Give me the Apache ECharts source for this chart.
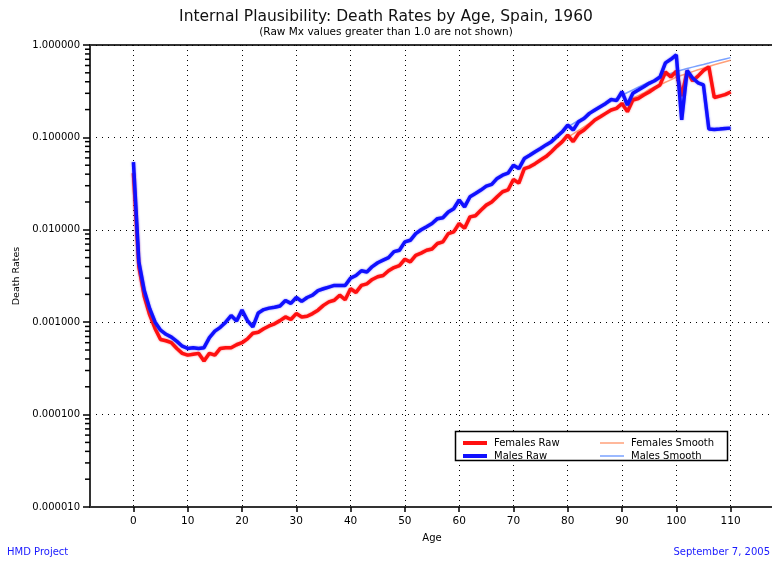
<!DOCTYPE html>
<html>
<head>
<meta charset="utf-8">
<script src="https://cdn.jsdelivr.net/npm/echarts@6/dist/echarts.min.js"></script>
<style>html,body{margin:0;padding:0;background:#fff;}#chart{width:772px;height:563px;}</style>
</head>
<body>
<div id="chart"></div>
<script>
// ---- data ----
const ages = [0,1,2,3,4,5,6,7,8,9,10,11,12,13,14,15,16,17,18,19,20,21,22,23,24,25,26,27,28,29,30,31,32,33,34,35,36,37,38,39,40,41,42,43,44,45,46,47,48,49,50,51,52,53,54,55,56,57,58,59,60,61,62,63,64,65,66,67,68,69,70,71,72,73,74,75,76,77,78,79,80,81,82,83,84,85,86,87,88,89,90,91,92,93,94,95,96,97,98,99,100,101,102,103,104,105,106,107,108,109,110];

const femalesRaw = [0.041,0.0040,0.0019,0.00120,0.00085,0.00065,0.00063,0.00060,0.00052,0.00046,
  0.00044,0.00045,0.00046,0.00038,0.00046,0.00044,0.00052,0.00053,0.00053,0.00057,
  0.00060,0.00066,0.00076,0.00078,0.00085,0.00091,0.00096,0.00104,0.00114,0.00107,
  0.00124,0.00114,0.00116,0.00124,0.00135,0.00152,0.00166,0.00173,0.00196,0.00175,
  0.0023,0.0021,0.0025,0.0026,0.0029,0.0031,0.0032,0.0036,0.0039,0.0041,
  0.0048,0.0045,0.0053,0.0056,0.0060,0.0062,0.0071,0.0074,0.0091,0.0095,
  0.0117,0.0104,0.0138,0.0142,0.0163,0.0185,0.0200,0.0228,0.0258,0.0270,
  0.035,0.032,0.046,0.048,0.052,0.057,0.062,0.070,0.080,0.090,
  0.106,0.090,0.110,0.120,0.136,0.154,0.167,0.182,0.198,0.206,
  0.233,0.190,0.254,0.264,0.287,0.310,0.340,0.370,0.510,0.450,
  0.520,0.280,0.520,0.410,0.460,0.530,0.580,0.270,0.280,0.290,0.310];

const malesRaw = [0.054,0.0045,0.0022,0.0014,0.0010,0.00082,0.00074,0.00069,0.00062,0.00055,
  0.00052,0.00053,0.00052,0.00053,0.00068,0.00080,0.00088,0.00100,0.00118,0.00103,
  0.00135,0.00104,0.00089,0.00126,0.00137,0.00142,0.00145,0.00150,0.00172,0.00160,
  0.00185,0.00168,0.00185,0.00196,0.0022,0.0023,0.0024,0.0025,0.0025,0.0025,
  0.0030,0.0032,0.0036,0.0035,0.0040,0.0044,0.0047,0.0050,0.0058,0.0060,
  0.0074,0.0077,0.0091,0.0100,0.0108,0.0117,0.0132,0.0135,0.0156,0.0169,
  0.0210,0.0177,0.0228,0.0247,0.0269,0.0297,0.031,0.036,0.039,0.041,
  0.050,0.046,0.059,0.064,0.070,0.076,0.083,0.090,0.102,0.115,
  0.136,0.120,0.148,0.160,0.182,0.198,0.215,0.233,0.258,0.250,
  0.312,0.224,0.300,0.325,0.353,0.385,0.410,0.450,0.640,0.700,
  0.780,0.155,0.530,0.440,0.390,0.370,0.123,0.122,0.123,0.125,0.126];

const smoothAges = [80,81,82,83,84,85,86,87,88,89,90,91,92,93,94,95,96,97,98,99,100,101,102,103,104,105,106,107,108,109,110];
const femalesSmooth = [0.100,0.109,0.119,0.130,0.142,0.155,0.168,0.182,0.197,0.213,
  0.230,0.247,0.265,0.283,0.302,0.330,0.350,0.370,0.395,0.420,
  0.450,0.470,0.490,0.515,0.540,0.560,0.585,0.610,0.635,0.660,0.685];
const malesSmooth = [0.130,0.141,0.153,0.166,0.180,0.195,0.211,0.228,0.246,0.265,
  0.285,0.306,0.327,0.349,0.372,0.395,0.419,0.443,0.467,0.491,
  0.515,0.536,0.556,0.576,0.596,0.616,0.638,0.661,0.684,0.707,0.730];

const xTicks = [0,10,20,30,40,50,60,70,80,90,100,110];
const yTicks = [0.00001,0.0001,0.001,0.01,0.1,1];
const yMinorTicks = [2e-5,3e-5,4e-5,5e-5,6e-5,7e-5,8e-5,9e-5,
  2e-4,3e-4,4e-4,5e-4,6e-4,7e-4,8e-4,9e-4,
  2e-3,3e-3,4e-3,5e-3,6e-3,7e-3,8e-3,9e-3,
  2e-2,3e-2,4e-2,5e-2,6e-2,7e-2,8e-2,9e-2,
  0.2,0.3,0.4,0.5,0.6,0.7,0.8,0.9];

const FONT = 'DejaVu Sans';
const pair = (xs, ys) => xs.map((x, i) => [x, ys[i]]);

const chart = echarts.init(document.getElementById('chart'), null, {renderer: 'canvas'});
chart.setOption({
  animation: false,
  backgroundColor: '#fff',
  title: [
    {text: 'Internal Plausibility: Death Rates by Age, Spain, 1960',
     subtext: '(Raw Mx values greater than 1.0 are not shown)',
     left: 'center', top: 4, itemGap: 2,
     textStyle: {fontFamily: FONT, fontSize: 15.5, fontWeight: 'normal', color: '#111'},
     subtextStyle: {fontFamily: FONT, fontSize: 10.5, color: '#000'}},
    {text: 'HMD Project', left: 7, top: 547, padding: 0,
     textStyle: {fontFamily: FONT, fontSize: 10, fontWeight: 'normal', color: '#1a1aff'}},
    {text: 'September 7, 2005', right: 2, top: 547, padding: 0,
     textStyle: {fontFamily: FONT, fontSize: 10, fontWeight: 'normal', color: '#1a1aff'}}
  ],
  grid: {left: 90, top: 45, width: 684, height: 462, show: true, outerBoundsMode: 'none',
         borderColor: '#333', borderWidth: 2, backgroundColor: 'transparent'},
  xAxis: {
    type: 'value', min: -8, max: 118,
    name: 'Age', nameLocation: 'middle', nameGap: 26,
    nameTextStyle: {fontFamily: FONT, fontSize: 10, color: '#000'},
    axisLine: {show: true, onZero: false, lineStyle: {color: '#333', width: 2}},
    axisTick: {show: true, customValues: xTicks, length: 5, lineStyle: {color: '#000', width: 1.5}},
    axisLabel: {customValues: xTicks, fontFamily: FONT, fontSize: 10.5, color: '#000', margin: 9},
    splitLine: {show: true, customValues: xTicks, lineStyle: {color: '#000', type: [1, 4], width: 1}}
  },
  yAxis: {
    type: 'log', logBase: 10, min: 0.00001, max: 1,
    name: 'Death Rates', nameLocation: 'middle', nameGap: 67, nameRotate: 90,
    nameTextStyle: {fontFamily: FONT, fontSize: 9.5, color: '#000'},
    axisLine: {show: true, onZero: false, lineStyle: {color: '#333', width: 2}},
    axisTick: {show: true, customValues: yTicks, length: 7, lineStyle: {color: '#000', width: 1.5}},
    axisLabel: {customValues: yTicks, fontFamily: FONT, fontSize: 10, color: '#000', margin: 10,
                formatter: v => Number(v).toFixed(6)},
    splitLine: {show: true, customValues: yTicks, lineStyle: {color: '#000', type: [1, 5], width: 1}},
    minorTick: {show: false}
  },
  legend: [
    {orient: 'vertical', left: 458, top: 433, itemGap: 3, itemWidth: 24, itemHeight: 4, icon: 'rect',
     data: ['Females Raw', 'Males Raw'], z: 10,
     textStyle: {fontFamily: FONT, fontSize: 10, color: '#000', padding: [0, 0, 0, 2]}},
    {orient: 'vertical', left: 595, top: 433, itemGap: 3, itemWidth: 24, itemHeight: 1.5, icon: 'rect',
     data: ['Females Smooth', 'Males Smooth'], z: 10,
     textStyle: {fontFamily: FONT, fontSize: 10, color: '#000', padding: [0, 0, 0, 2]}}
  ],
  graphic: [
    {type: 'rect', z: 8, shape: {x: 455.5, y: 431.5, width: 272, height: 29},
     style: {fill: '#fff', stroke: '#000', lineWidth: 1.5}}
  ],
  series: [
    {name: 'Females Smooth', type: 'line', data: pair(smoothAges, femalesSmooth), showSymbol: false,
     color: '#ffa07a', lineStyle: {width: 1.5}, z: 2},
    {name: 'Males Smooth', type: 'line', data: pair(smoothAges, malesSmooth), showSymbol: false,
     color: '#7aa2ff', lineStyle: {width: 1.5}, z: 2},
    {name: 'Females Raw', type: 'line', data: pair(ages, femalesRaw), showSymbol: false,
     color: '#ff1010', lineStyle: {width: 3.5, shadowBlur: 2, shadowColor: 'rgba(255,60,60,0.7)'}, z: 3},
    {name: 'Males Raw', type: 'line', data: pair(ages, malesRaw), showSymbol: false,
     color: '#1010ff', lineStyle: {width: 3.5, shadowBlur: 2, shadowColor: 'rgba(60,60,255,0.7)'}, z: 4},
    {name: 'minorTicks', type: 'custom', clip: false, silent: true, z: 5,
     data: yMinorTicks.map(v => [0, v]),
     renderItem: function (params, api) {
       const y = api.coord([0, api.value(1)])[1];
       const x0 = params.coordSys.x;
       return {type: 'line', shape: {x1: x0 - 5, y1: y, x2: x0, y2: y},
               style: {stroke: '#000', lineWidth: 1.5}};
     }}
  ]
});
</script>
</body>
</html>
